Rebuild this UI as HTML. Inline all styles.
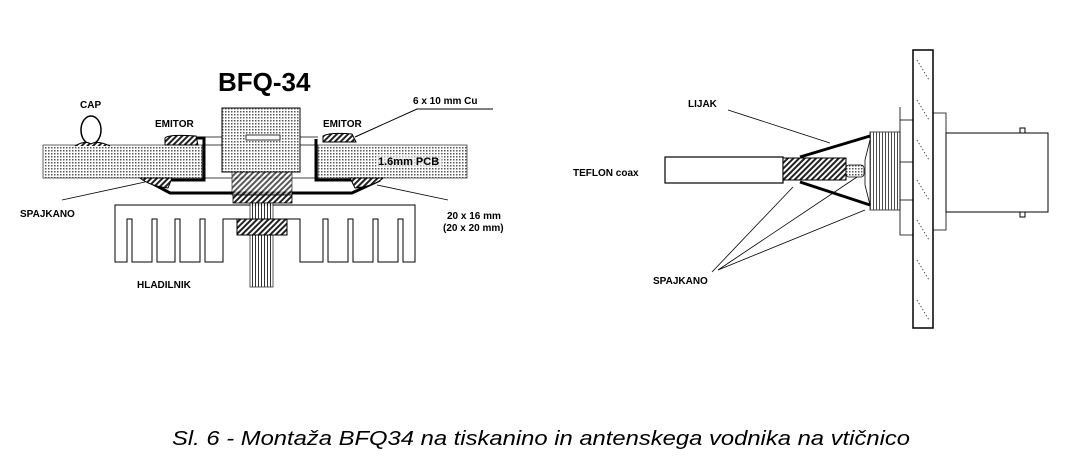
<!DOCTYPE html>
<html><head><meta charset="utf-8"><style>
html,body{margin:0;padding:0;background:#fff;}
svg{display:block;}
text{font-family:"Liberation Sans",sans-serif;font-weight:bold;fill:#000;}
</style></head><body>
<svg width="1072" height="466" viewBox="0 0 1072 466" xmlns="http://www.w3.org/2000/svg">
<defs>
<pattern id="dots" width="3" height="3" patternUnits="userSpaceOnUse">
<rect width="3" height="3" fill="#fff"/><rect width="1.5" height="1.5" fill="#555"/></pattern>
<pattern id="hatch" width="4" height="4" patternUnits="userSpaceOnUse" patternTransform="rotate(45)">
<rect width="4" height="4" fill="#fff"/><rect width="2" height="4" fill="#222"/></pattern>
<pattern id="vlines" width="3" height="3" patternUnits="userSpaceOnUse">
<rect width="3" height="3" fill="#fff"/><rect width="1" height="3" fill="#000"/></pattern>
</defs>

<text x="218" y="91" font-size="26">BFQ-34</text>
<text x="80" y="108" font-size="10">CAP</text>
<ellipse cx="91" cy="130" rx="10" ry="14" fill="#fff" stroke="#000" stroke-width="1.5"/>
<text x="155" y="127" font-size="10">EMITOR</text>
<text x="323" y="127" font-size="10">EMITOR</text>
<text x="413" y="104" font-size="10">6 x 10 mm Cu</text>
<polyline points="493,109 417,109 355,137" fill="none" stroke="#000" stroke-width="1"/>

<rect x="43" y="145" width="159" height="33" fill="url(#dots)" stroke="#444" stroke-width="0.8"/>
<rect x="318" y="145" width="149" height="33" fill="url(#dots)" stroke="#444" stroke-width="0.8"/>
<rect x="376" y="154" width="66" height="13" fill="#eee" opacity="0.6"/>
<text x="378" y="165" font-size="11">1.6mm PCB</text>
<line x1="202" y1="137" x2="318" y2="137" stroke="#000" stroke-width="0.8"/>
<line x1="202" y1="145" x2="318" y2="145" stroke="#000" stroke-width="0.8"/>
<line x1="202" y1="178" x2="318" y2="178" stroke="#000" stroke-width="0.8"/>
<path d="M75 146 Q85 140 91 144 Q97 140 110 146" fill="url(#hatch)" stroke="#000"/>
<polyline points="167,138 204,138 204,180 148,180" fill="none" stroke="#000" stroke-width="3"/>
<polyline points="316,139 316,180 377,180" fill="none" stroke="#000" stroke-width="3"/>
<polyline points="146,180 170,193 352,193 380,180" fill="none" stroke="#000" stroke-width="3"/>
<path d="M165 138 Q168 134 196 136 L198 145 L165 145Z" fill="url(#hatch)" stroke="#000"/>
<path d="M323 136 Q330 132 352 134 L356 142 L323 142Z" fill="url(#hatch)" stroke="#000"/>
<path d="M140 178 L172 178 L168 188 Q150 186 140 178Z" fill="url(#hatch)" stroke="#000"/>
<path d="M350 178 L383 178 Q375 186 355 188Z" fill="url(#hatch)" stroke="#000"/>
<rect x="222" y="108" width="78" height="64" fill="url(#dots)" stroke="#000" stroke-width="1"/>
<rect x="246" y="135" width="34" height="5" fill="#fff" stroke="#000" stroke-width="0.8"/>
<rect x="232" y="172" width="60" height="23" fill="url(#hatch)" stroke="#000" stroke-width="0.8" opacity="0.75"/>
<rect x="233" y="195" width="59" height="8" fill="url(#hatch)" stroke="#000" stroke-width="0.8"/>
<path d="M115 205 L415 205 L415 262 L403 262 L403 219 L398 219 L398 262 L378 262 L378 219 L373 219 L373 262 L353 262 L353 219 L348 219 L348 262 L328 262 L328 219 L323 219 L323 262 L300 262 L300 219 L223 219 L223 262 L205 262 L205 219 L200 219 L200 262 L180 262 L180 219 L175 219 L175 262 L157 262 L157 219 L152 219 L152 262 L132 262 L132 219 L127 219 L127 262 L115 262 Z" fill="#fff" stroke="#000" stroke-width="1"/>
<rect x="250" y="203" width="23" height="84" fill="url(#vlines)" stroke="#000" stroke-width="0.8" opacity="0.8"/>
<rect x="237" y="219" width="50" height="16" fill="url(#hatch)" stroke="#000" stroke-width="1"/>
<text x="137" y="288" font-size="10">HLADILNIK</text>
<text x="20" y="217" font-size="10">SPAJKANO</text>
<line x1="62" y1="200" x2="145" y2="182" stroke="#000" stroke-width="0.8"/>
<text x="447" y="219" font-size="10">20 x 16 mm</text>
<text x="443" y="231" font-size="10">(20 x 20 mm)</text>
<line x1="448" y1="200" x2="377" y2="185" stroke="#000" stroke-width="0.8"/>

<rect x="913" y="50" width="20" height="278" fill="#fff" stroke="#000" stroke-width="1.5"/>
<path d="M917 60 L929 80 M917 100 L929 120 M917 140 L929 160 M917 180 L929 200 M917 220 L929 240 M917 260 L929 280 M917 300 L929 320" stroke="#555" stroke-width="1" stroke-dasharray="1.5,2"/>
<polyline points="900,107 900,235 913,235" fill="none" stroke="#000" stroke-width="0.8"/>
<line x1="900" y1="120" x2="913" y2="120" stroke="#000" stroke-width="0.8"/>
<line x1="900" y1="162" x2="913" y2="162" stroke="#000" stroke-width="0.8"/>
<line x1="900" y1="200" x2="913" y2="200" stroke="#000" stroke-width="0.8"/>
<polyline points="933,113 946,113 946,230 933,230" fill="none" stroke="#000" stroke-width="0.8"/>
<rect x="870" y="132" width="30" height="78" fill="url(#vlines)" stroke="#000" stroke-width="1" opacity="0.7"/>
<rect x="946" y="133" width="102" height="79" fill="#fff" stroke="#000" stroke-width="1"/>
<rect x="1020" y="128" width="5" height="5" fill="#fff" stroke="#000"/>
<rect x="1020" y="212" width="5" height="5" fill="#fff" stroke="#000"/>
<rect x="665" y="157" width="118" height="26" fill="#fff" stroke="#000" stroke-width="1.2"/>
<rect x="783" y="158" width="63" height="22" fill="url(#hatch)" stroke="#000" stroke-width="1"/>
<rect x="846" y="165" width="18" height="12" rx="3" fill="url(#dots)" stroke="#000" stroke-width="0.8"/>
<line x1="800" y1="157" x2="870" y2="136" stroke="#000" stroke-width="3"/>
<line x1="800" y1="182" x2="870" y2="205" stroke="#000" stroke-width="3"/>
<path d="M870 140 L865 160 L865 185 L870 205" fill="none" stroke="#000" stroke-width="0.8"/>
<text x="688" y="107" font-size="10">LIJAK</text>
<line x1="728" y1="110" x2="830" y2="143" stroke="#000" stroke-width="0.8"/>
<text x="573" y="176" font-size="10">TEFLON coax</text>
<text x="653" y="284" font-size="10">SPAJKANO</text>
<line x1="712" y1="272" x2="793" y2="187" stroke="#000" stroke-width="0.8"/>
<line x1="718" y1="270" x2="857" y2="177" stroke="#000" stroke-width="0.8"/>
<line x1="718" y1="270" x2="865" y2="210" stroke="#000" stroke-width="0.8"/>

<text x="172" y="445" font-size="20" font-style="italic" style="font-weight:normal" textLength="738" lengthAdjust="spacingAndGlyphs">Sl. 6  -  Montaža BFQ34 na tiskanino in antenskega vodnika na vtičnico</text>
</svg>
</body></html>
